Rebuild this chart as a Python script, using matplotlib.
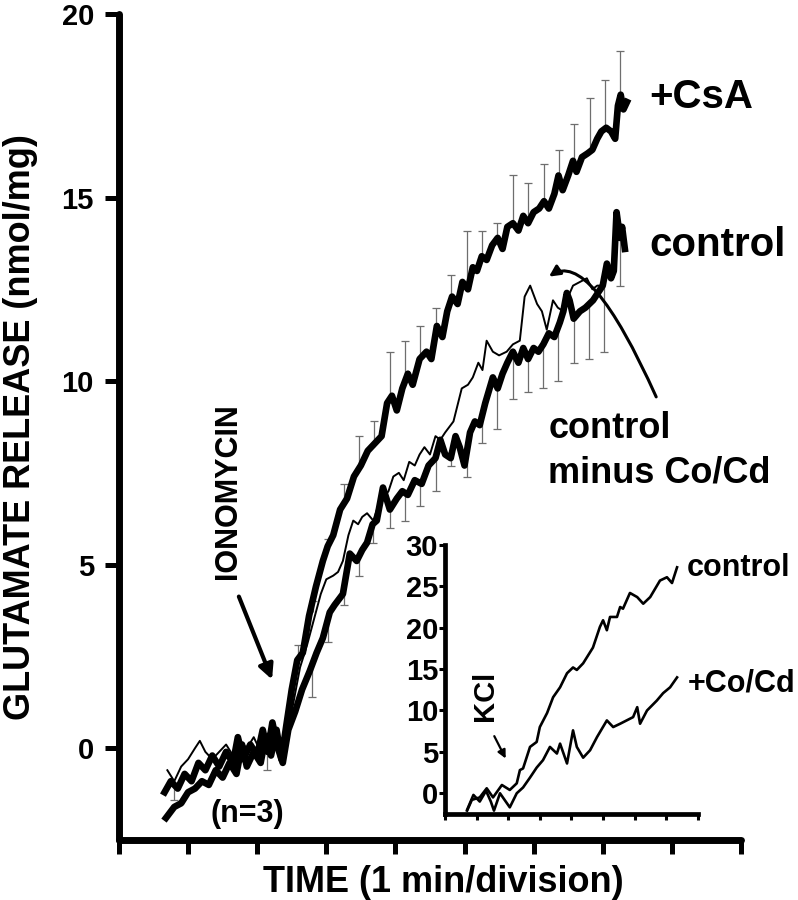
import matplotlib
matplotlib.use("Agg")
import matplotlib.pyplot as plt
from matplotlib.patches import FancyArrowPatch

plt.rcParams["font.family"] = ["Liberation Sans", "DejaVu Sans"]
plt.rcParams["font.weight"] = "bold"

# main panel: glutamate release (nmol/mg), time in min
csa_x = [0.68, 0.80, 0.90, 1.00, 1.10, 1.20, 1.30, 1.40, 1.50, 1.60, 1.70, 1.78, 1.85, 1.95,
         2.05, 2.12, 2.20, 2.28, 2.35, 2.42, 2.50, 2.58, 2.66, 2.75, 2.85, 2.95, 3.02, 3.10,
         3.20, 3.30, 3.40, 3.50, 3.60, 3.70, 3.80, 3.88, 3.95, 4.02, 4.10, 4.18, 4.25, 4.35,
         4.45, 4.52, 4.60, 4.68, 4.75, 4.82, 4.90, 4.97, 5.05, 5.12, 5.18, 5.25, 5.32, 5.40,
         5.48, 5.55, 5.62, 5.70, 5.78, 5.85, 5.92, 6.00, 6.08, 6.15, 6.22, 6.30, 6.36, 6.42,
         6.50, 6.57, 6.62, 6.70, 6.78, 6.85, 6.92, 6.98, 7.05, 7.12, 7.18, 7.22, 7.26, 7.30, 7.35]
csa_y = [-1.9, -1.6, -1.5, -1.2, -1.1, -0.9, -1.0, -0.6, -0.8, -0.4, -0.7, 0.1, -0.5, -0.1,
         -0.4, 0.3, -0.2, 0.5, -0.3, 0.6, 1.6, 2.4, 2.6, 3.6, 4.4, 5.1, 5.5, 5.8,
         6.5, 6.8, 7.4, 7.7, 8.1, 8.3, 8.5, 9.4, 9.6, 9.2, 9.8, 10.2, 9.9, 10.6,
         10.8, 10.6, 11.5, 11.2, 11.9, 12.3, 12.1, 12.7, 12.5, 13.1, 13.0, 13.4, 13.3, 13.7,
         13.9, 13.6, 14.2, 14.3, 14.1, 14.5, 14.3, 14.6, 14.7, 14.9, 14.7, 15.1, 15.6, 15.2,
         15.6, 16.0, 15.7, 16.1, 16.2, 16.3, 16.6, 16.8, 16.9, 16.8, 16.6, 17.5, 17.8, 17.4, 17.6]

ctrl_x = [0.66, 0.75, 0.85, 0.95, 1.05, 1.15, 1.25, 1.35, 1.45, 1.55, 1.65, 1.72, 1.80, 1.90,
          2.00, 2.08, 2.15, 2.22, 2.30, 2.37, 2.45, 2.55, 2.65, 2.76, 2.86, 2.95, 3.05, 3.12,
          3.24, 3.34, 3.44, 3.52, 3.59, 3.67, 3.73, 3.82, 3.92, 4.02, 4.10, 4.18, 4.28, 4.38,
          4.48, 4.58, 4.65, 4.72, 4.80, 4.87, 4.93, 5.00, 5.08, 5.15, 5.22, 5.30, 5.41, 5.48,
          5.55, 5.62, 5.70, 5.78, 5.85, 5.92, 6.00, 6.07, 6.14, 6.22, 6.30, 6.38, 6.43, 6.48,
          6.52, 6.58, 6.67, 6.75, 6.86, 6.93, 7.00, 7.06, 7.12, 7.16, 7.20, 7.25, 7.28, 7.32]
ctrl_y = [-1.2, -0.9, -1.1, -0.7, -0.9, -0.4, -0.6, -0.2, -0.5, -0.1, -0.4, 0.3, -0.3, 0.1,
          -0.2, 0.5, -0.1, 0.7, 0.0, -0.4, 0.5, 1.0, 1.6, 2.1, 2.6, 3.0, 3.7, 3.9,
          4.2, 5.3, 5.1, 5.4, 5.6, 6.1, 6.2, 7.1, 6.5, 6.8, 7.0, 6.9, 7.3, 7.2,
          7.7, 7.9, 8.4, 8.0, 7.9, 8.5, 8.2, 7.7, 8.6, 8.9, 8.8, 9.4, 10.1, 9.8,
          10.2, 10.5, 10.8, 10.5, 10.9, 10.6, 10.9, 10.8, 11.0, 11.3, 11.2, 11.6, 11.9, 12.4,
          12.2, 11.7, 11.9, 12.0, 12.2, 12.4, 12.6, 13.2, 12.8, 13.0, 14.6, 13.9, 14.2, 13.6]

minus_x = [0.70, 0.80, 0.90, 1.00, 1.10, 1.17, 1.25, 1.35, 1.45, 1.55, 1.65, 1.75, 1.85, 1.95,
           2.05, 2.15, 2.25, 2.35, 2.42, 2.52, 2.62, 2.72, 2.82, 2.92, 3.00, 3.10, 3.17, 3.24,
           3.32, 3.39, 3.46, 3.52, 3.59, 3.68, 3.75, 3.82, 3.90, 3.97, 4.05, 4.12, 4.20, 4.28,
           4.35, 4.42, 4.50, 4.58, 4.65, 4.72, 4.84, 4.96, 5.05, 5.12, 5.20, 5.26, 5.32, 5.41,
           5.50, 5.61, 5.70, 5.80, 5.87, 5.95, 6.05, 6.12, 6.19, 6.28, 6.35, 6.43, 6.50, 6.57,
           6.67, 6.77, 6.85, 6.92, 7.00]
minus_y = [-0.6, -0.9, -0.5, -0.3, 0.0, 0.2, -0.1, -0.3, -0.1, 0.1, -0.2, 0.2, 0.0, 0.3,
           -0.1, 0.4, 0.0, -0.2, 0.3, 1.2, 2.2, 2.8, 3.5, 4.2, 4.6, 4.7, 4.8, 5.1,
           5.8, 6.2, 6.1, 6.3, 6.4, 6.2, 6.6, 6.8, 7.0, 7.4, 7.5, 7.3, 7.8, 7.7,
           8.0, 8.2, 8.0, 8.5, 8.4, 8.6, 8.9, 9.8, 9.9, 10.1, 10.5, 10.3, 11.1, 10.8,
           10.7, 10.8, 11.0, 11.1, 12.3, 12.6, 12.1, 11.9, 11.4, 12.2, 12.0, 11.9, 12.3, 12.6,
           12.7, 12.8, 12.5, 12.6, 12.6]

# SEM bars: +CsA upward, control downward
csa_bar_x = [2.59, 2.81, 3.02, 3.26, 3.47, 3.69, 3.92, 4.14, 4.36, 4.59, 4.81,
             5.03, 5.25, 5.47, 5.70, 5.92, 6.15, 6.37, 6.58, 6.82, 7.03, 7.25]
csa_bar_mean = [2.3, 3.7, 5.4, 6.6, 7.6, 8.2, 9.5, 9.9, 10.6, 11.3, 12.2,
                12.6, 13.3, 13.8, 14.3, 14.4, 14.8, 15.4, 15.9, 16.2, 16.9, 17.6]
csa_bar_top = [2.8, 4.0, 5.7, 7.2, 8.5, 8.9, 10.8, 11.1, 11.5, 12.0, 12.9,
               14.1, 14.1, 14.3, 15.6, 15.4, 15.9, 16.3, 17.0, 17.7, 18.2, 19.0]

ctrl_bar_x = [0.80, 2.14, 2.80, 3.03, 3.26, 3.47, 3.68, 3.92, 4.14, 4.36, 4.59, 4.81,
              5.03, 5.25, 5.47, 5.70, 5.92, 6.14, 6.35, 6.58, 6.80, 7.02, 7.25]
ctrl_bar_mean = [-1.0, -0.1, 2.2, 3.4, 4.4, 5.2, 6.1, 6.6, 7.0, 7.2, 8.0, 8.0,
                 8.0, 8.9, 9.9, 10.8, 10.6, 11.0, 11.5, 11.7, 12.1, 12.7, 14.0]
ctrl_bar_bottom = [-1.4, -0.6, 1.4, 2.9, 3.9, 4.7, 5.6, 6.0, 6.2, 6.6, 7.0, 7.7,
                   7.4, 8.3, 8.7, 9.5, 9.7, 9.8, 10.0, 10.5, 10.6, 10.8, 12.6]

# inset: KCl-evoked release
kcl_ctrl_x = [0.70, 0.85, 1.10, 1.32, 1.52, 1.80, 2.05, 2.27, 2.37, 2.47, 2.69, 2.90, 3.00,
              3.23, 3.42, 3.64, 3.86, 4.05, 4.17, 4.37, 4.68, 4.90, 5.00, 5.12, 5.22, 5.44,
              5.54, 5.63, 5.85, 6.08, 6.27, 6.49, 6.80, 7.02, 7.18, 7.34]
kcl_ctrl_y = [-2.1, -0.8, -0.5, 0.6, -0.5, 1.0, 0.4, 1.2, 2.8, 3.0, 5.6, 6.2, 8.0,
              9.7, 11.6, 12.8, 14.5, 15.2, 14.9, 15.7, 17.6, 20.1, 20.9, 19.7, 21.3, 21.3,
              22.5, 22.3, 24.2, 23.7, 22.9, 23.7, 25.7, 26.1, 25.4, 27.3]

kcl_co_x = [0.70, 0.90, 1.10, 1.30, 1.45, 1.55, 1.74, 2.05, 2.27, 2.47, 2.69, 2.90, 3.10,
            3.32, 3.54, 3.64, 3.86, 4.05, 4.17, 4.37, 4.59, 4.81, 5.12, 5.32, 5.54, 5.95,
            6.08, 6.17, 6.39, 6.70, 6.90, 7.12, 7.34]
kcl_co_y = [-2.0, -0.2, -1.0, 0.3, -1.0, -2.1, 0.0, -1.7, 0.0, 0.7, 1.9, 3.1, 4.0,
            5.6, 4.8, 6.0, 3.6, 7.6, 5.6, 4.3, 5.2, 6.8, 8.8, 8.0, 8.4, 9.2,
            10.4, 8.4, 10.0, 11.2, 12.1, 12.8, 14.0]

fig = plt.figure(figsize=(7.98, 9.0), dpi=100)

# ---- main axes ----
ax = fig.add_axes([0.1491, 0.0667, 0.7794, 0.9178])
ax.vlines(csa_bar_x, csa_bar_mean, csa_bar_top, color="#6e6e6e", lw=0.9, zorder=1)
ax.scatter(csa_bar_x, csa_bar_top, marker="_", s=30, color="#6e6e6e", linewidths=0.9, zorder=1)
ax.vlines(ctrl_bar_x, ctrl_bar_bottom, ctrl_bar_mean, color="#6e6e6e", lw=0.9, zorder=1)
ax.scatter(ctrl_bar_x, ctrl_bar_bottom, marker="_", s=30, color="#6e6e6e", linewidths=0.9, zorder=1)

ax.plot(minus_x, minus_y, color="black", lw=1.4, zorder=2)
ax.plot(ctrl_x, ctrl_y, color="black", lw=4.8, zorder=3, solid_joinstyle="round")
ax.plot(csa_x, csa_y, color="black", lw=4.8, zorder=3, solid_joinstyle="round")

ax.set_xlim(0, 9)
ax.set_ylim(-2.5, 20)
ax.set_xticks(range(0, 10))
ax.set_xticklabels([])
ax.set_yticks([0, 5, 10, 15, 20])
for s in ["top", "right"]:
    ax.spines[s].set_visible(False)
for s in ["left", "bottom"]:
    ax.spines[s].set_linewidth(5)
    ax.spines[s].set_capstyle("round")
ax.tick_params(axis="both", direction="out", length=10, width=3.6, labelsize=21, pad=8)
for lab in ax.get_yticklabels():
    lab.set_fontweight("bold")

ax.text(7.68, 17.74, "+CsA", fontsize=29, fontweight="bold", va="center", ha="left")
ax.text(7.68, 13.7, "control", fontsize=29, fontweight="bold", va="center", ha="left")
ax.text(6.21, 8.72, "control", fontsize=26, fontweight="bold", va="center", ha="left")
ax.text(6.21, 7.5, "minus Co/Cd", fontsize=26, fontweight="bold", va="center", ha="left")
ax.text(1.85, -1.8, "(n=3)", fontsize=22, fontweight="bold", va="center", ha="center")
ax.text(1.58, 7.0, "IONOMYCIN", fontsize=22, fontweight="bold", rotation=90,
        va="center", ha="center")

ax.annotate("", xy=(2.23, 1.8), xytext=(1.72, 4.2),
            arrowprops=dict(arrowstyle="-|>", lw=3, color="black", mutation_scale=22))
curl = FancyArrowPatch((7.79, 9.5), (6.19, 12.8), connectionstyle="angle3,angleA=114,angleB=39",
                       arrowstyle="-|>", mutation_scale=16, lw=2.2, color="black")
ax.add_patch(curl)

fig.text(21 / 798, 1 - 427 / 900, "GLUTAMATE RELEASE (nmol/mg)", fontsize=26,
         fontweight="bold", rotation=90, ha="center", va="center")
fig.text(443 / 798, 1 - 892 / 900, "TIME (1 min/division)", fontsize=26,
         fontweight="bold", ha="center", va="baseline")

# ---- inset ----
ins = fig.add_axes([0.5576, 0.0956, 0.3170, 0.2989])
ins.patch.set_alpha(0)
ins.plot(kcl_ctrl_x, kcl_ctrl_y, color="black", lw=1.9)
ins.plot(kcl_co_x, kcl_co_y, color="black", lw=1.9)
ins.set_xlim(0, 8)
ins.set_ylim(-2.5, 30)
ins.set_xticks(range(0, 9))
ins.set_xticklabels([])
ins.set_yticks([0, 5, 10, 15, 20, 25, 30])
for s in ["top", "right"]:
    ins.spines[s].set_visible(False)
for s in ["left", "bottom"]:
    ins.spines[s].set_linewidth(3.4)
ins.tick_params(axis="both", direction="out", length=4, width=2.2, labelsize=21, pad=1)
for lab in ins.get_yticklabels():
    lab.set_fontweight("bold")

ins.text(7.66, 27.2, "control", fontsize=22, fontweight="bold", va="center", ha="left")
ins.text(7.69, 13.3, "+Co/Cd", fontsize=22, fontweight="bold", va="center", ha="left")
ins.text(1.27, 11.8, "KCl", fontsize=21, fontweight="bold", rotation=90, va="center", ha="center")
ins.annotate("", xy=(1.96, 3.9), xytext=(1.52, 7.2),
             arrowprops=dict(arrowstyle="-|>", lw=1.6, color="black", mutation_scale=12))

fig.savefig("out.png", dpi=100)
